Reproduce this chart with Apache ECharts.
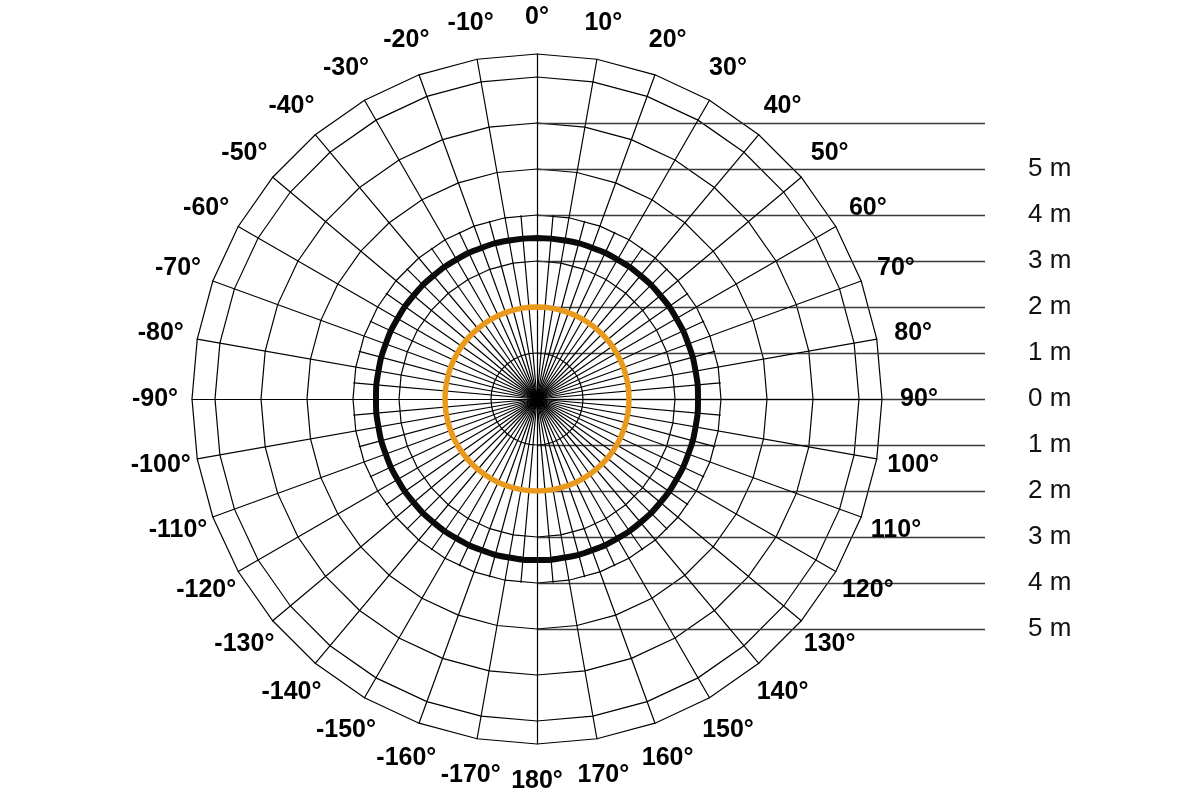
<!DOCTYPE html>
<html>
<head>
<meta charset="utf-8">
<script src="https://cdn.jsdelivr.net/npm/echarts@6/dist/echarts.min.js"></script>
<style>
  html, body { margin: 0; padding: 0; background: #fff; }
  #chart { width: 1200px; height: 800px; }
</style>
</head>
<body>
<div id="chart"></div>
<script>
// directions of the measured pattern, degrees clockwise from the front
const patternAngles = [0, 10, 20, 30, 40, 50, 60, 70, 80, 90, 100, 110, 120, 130, 140, 150, 160, 170, 180,
  190, 200, 210, 220, 230, 240, 250, 260, 270, 280, 290, 300, 310, 320, 330, 340, 350, 360];
// range in metres (both curves are round)
const blackPattern = [3.5, 3.5, 3.5, 3.5, 3.5, 3.5, 3.5, 3.5, 3.5, 3.5, 3.5, 3.5, 3.5, 3.5, 3.5, 3.5, 3.5, 3.5, 3.5,
  3.5, 3.5, 3.5, 3.5, 3.5, 3.5, 3.5, 3.5, 3.5, 3.5, 3.5, 3.5, 3.5, 3.5, 3.5, 3.5, 3.5, 3.5];
const orangePattern = [2, 2, 2, 2, 2, 2, 2, 2, 2, 2, 2, 2, 2, 2, 2, 2, 2, 2, 2,
  2, 2, 2, 2, 2, 2, 2, 2, 2, 2, 2, 2, 2, 2, 2, 2, 2, 2];

// grid spokes every 10 degrees, one label each
const spokeAngles = [0, 10, 20, 30, 40, 50, 60, 70, 80, 90, 100, 110, 120, 130, 140, 150, 160, 170,
  180, 190, 200, 210, 220, 230, 240, 250, 260, 270, 280, 290, 300, 310, 320, 330, 340, 350];
const spokeLabels = ['0°', '10°', '20°', '30°', '40°', '50°', '60°', '70°', '80°', '90°',
  '100°', '110°', '120°', '130°', '140°', '150°', '160°', '170°', '180°',
  '-170°', '-160°', '-150°', '-140°', '-130°', '-120°', '-110°', '-100°', '-90°',
  '-80°', '-70°', '-60°', '-50°', '-40°', '-30°', '-20°', '-10°'];
const ringDistances = [1, 2, 3, 4, 5, 6, 7];
const outerDistance = 7.5;
const fineSpokeReach = 4;   // the extra 5 degree spokes stop at the 4 m ring

// distance scale on the right
const scaleLevels = [6, 5, 4, 3, 2, 1, 0, -1, -2, -3, -4, -5];
const scaleUnit = ' m';

const cx = 537, cy = 399, R = 345;
const pxPerM = R / outerDistance;
const labelRadius = 382 / pxPerM;
const gridColor = '#000';
const gridWidth = 1.2;
const font = 'Liberation Sans, Arial, Helvetica, sans-serif';

const chart = echarts.init(document.getElementById('chart'));

function ind(n) {
  return spokeAngles.slice(0, n).map(() => ({ name: '', max: 1 }));
}

const noDeco = {
  axisName: { show: false },
  axisTick: { show: false },
  axisLabel: { show: false },
  splitArea: { show: false }
};

chart.setOption({
  backgroundColor: '#fff',
  animation: false,
  radar: [
    // rings at every metre
    Object.assign({
      center: [cx, cy],
      radius: ringDistances[ringDistances.length - 1] * pxPerM,
      startAngle: 90,
      splitNumber: ringDistances.length,
      shape: 'polygon',
      indicator: ind(spokeAngles.length),
      axisLine: { show: false },
      splitLine: { lineStyle: { color: gridColor, width: gridWidth } }
    }, noDeco),
    // outer ring and the 10 degree spokes
    Object.assign({
      center: [cx, cy],
      radius: R,
      startAngle: 90,
      splitNumber: 1,
      shape: 'polygon',
      indicator: ind(spokeAngles.length),
      axisLine: { lineStyle: { color: gridColor, width: gridWidth } },
      splitLine: { lineStyle: { color: gridColor, width: gridWidth } }
    }, noDeco),
    // in-between spokes
    Object.assign({
      center: [cx, cy],
      radius: fineSpokeReach * pxPerM,
      startAngle: 85,
      splitNumber: 1,
      shape: 'polygon',
      indicator: ind(spokeAngles.length),
      axisLine: { lineStyle: { color: gridColor, width: gridWidth } },
      splitLine: { show: false }
    }, noDeco)
  ],
  polar: { center: [cx, cy], radius: R },
  angleAxis: {
    type: 'value',
    min: 0,
    max: 360,
    interval: 10,
    startAngle: 90,
    clockwise: true,
    axisLine: { show: false },
    axisTick: { show: false },
    splitLine: { show: false },
    axisLabel: { show: false }
  },
  radiusAxis: {
    type: 'value',
    min: 0,
    max: outerDistance,
    show: false
  },
  grid: {
    left: cx,
    top: cy - scaleLevels[0] * pxPerM,
    width: 448,
    height: (scaleLevels[0] - scaleLevels[scaleLevels.length - 1]) * pxPerM
  },
  xAxis: { type: 'value', min: 0, max: 1, show: false },
  yAxis: {
    type: 'value',
    position: 'right',
    min: scaleLevels[scaleLevels.length - 1],
    max: scaleLevels[0],
    interval: 1,
    axisLine: { show: false },
    axisTick: { show: false },
    splitLine: { show: true, lineStyle: { color: '#3a3a3a', width: 1.3 } },
    axisLabel: {
      margin: 43,
      align: 'left',
      fontSize: 26,
      fontFamily: font,
      color: '#111',
      formatter: function (v) {
        return v === scaleLevels[0] ? '' : Math.abs(v) + scaleUnit;
      }
    }
  },
  series: [
    {
      type: 'line',
      coordinateSystem: 'polar',
      data: patternAngles.map((a, i) => [orangePattern[i], a]),
      symbol: 'none',
      smooth: true,
      lineStyle: { color: '#E99A1D', width: 5.5 },
      z: 5
    },
    {
      type: 'line',
      coordinateSystem: 'polar',
      data: patternAngles.map((a, i) => [blackPattern[i], a]),
      symbol: 'none',
      smooth: true,
      lineStyle: { color: '#0a0a0a', width: 6 },
      z: 5
    },
    {
      // degree labels round the outside
      type: 'scatter',
      coordinateSystem: 'polar',
      clip: false,
      silent: true,
      symbolSize: 1,
      itemStyle: { color: 'rgba(0,0,0,0)', opacity: 1 },
      data: spokeAngles.map((a, i) => ({ value: [labelRadius, a], name: spokeLabels[i] })),
      label: {
        show: true,
        position: 'inside',
        formatter: '{b}',
        fontSize: 25,
        fontWeight: 'bold',
        fontFamily: font,
        color: '#000',
        textBorderWidth: 0
      },
      z: 6
    }
  ]
});
</script>
</body>
</html>
